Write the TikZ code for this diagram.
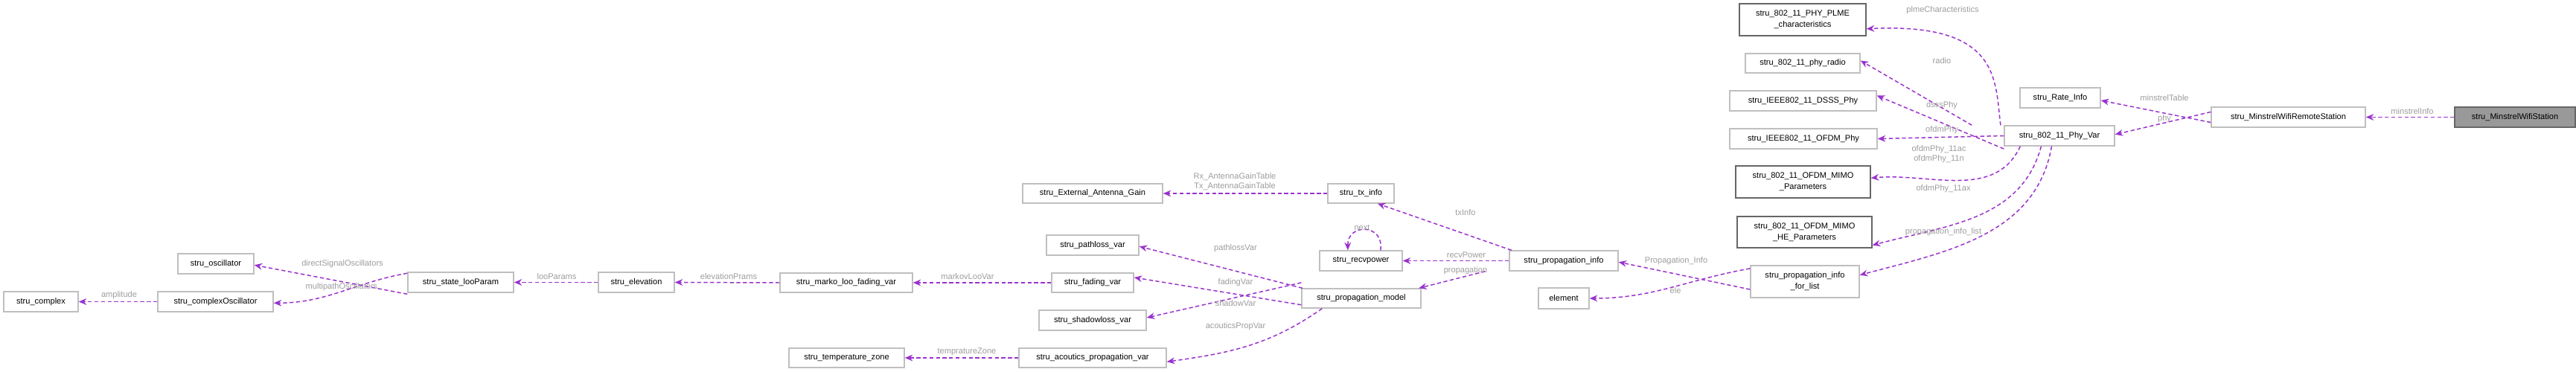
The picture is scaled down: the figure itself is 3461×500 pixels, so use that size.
\documentclass[tikz,border=0pt]{standalone}
\usepackage{fontspec}
\setmainfont{Liberation Sans}
\usetikzlibrary{arrows.meta}
\definecolor{edge}{HTML}{9A32CD}
\definecolor{lbl}{HTML}{9C9C9C}
\definecolor{lite}{HTML}{BFBFBF}
\definecolor{dark}{HTML}{666666}
\newcommand\bx[7][]{\node[box,#1,minimum width={(#5-#3)*0.02cm},minimum height={(#6-#4)*0.02cm}] (#2) at ({(#3+#5)/2},{(#4+#6)/2}) {#7};}
\begin{document}
\begin{tikzpicture}[x=0.02cm,y=-0.02cm,
  box/.style={draw=lite,line width=0.8pt,fill=white,inner sep=1pt,align=center,font=\fontsize{6.3}{8.5}\selectfont},
  dk/.style={draw=dark},
  e/.style={draw=edge,line width=0.85pt,dash pattern=on 3pt off 2pt,-{Stealth[length=6pt,width=5pt]}},
  l/.style={text=lbl,font=\fontsize{6.3}{7.5}\selectfont,inner sep=0pt,align=center}]
\useasboundingbox (0,0) rectangle (3461,500);
\bx[fill=gray!80!white,draw=dark]{mws}{3298}{144}{3460}{171}{stru\_MinstrelWifiStation}
\bx{mrs}{2971}{144}{3178}{171}{stru\_MinstrelWifiRemoteStation}
\bx{rate}{2714}{118}{2822}{145}{stru\_Rate\_Info}
\bx{phy}{2693}{169}{2841}{196}{stru\_802\_11\_Phy\_Var}
\bx[dk]{plme}{2337}{5}{2507}{48}{stru\_802\_11\_PHY\_PLME\\\_characteristics}
\bx{radio}{2345}{72}{2499}{98}{stru\_802\_11\_phy\_radio}
\bx{dsss}{2324}{122}{2521}{149}{stru\_IEEE802\_11\_DSSS\_Phy}
\bx{ofdm}{2324}{173}{2522}{200}{stru\_IEEE802\_11\_OFDM\_Phy}
\bx[dk]{mimo}{2332}{223}{2513}{266}{stru\_802\_11\_OFDM\_MIMO\\\_Parameters}
\bx[dk]{he}{2334}{291}{2515}{333}{stru\_802\_11\_OFDM\_MIMO\\\_HE\_Parameters}
\bx{fl}{2352}{357}{2498}{400}{stru\_propagation\_info\\\_for\_list}
\bx{pinfo}{2028}{337}{2174}{364}{stru\_propagation\_info}
\bx{elem}{2067}{387}{2135}{415}{element}
\bx{tx}{1784}{247}{1873}{273}{stru\_tx\_info}
\bx{ext}{1374}{247}{1562}{273}{stru\_External\_Antenna\_Gain}
\bx{recv}{1773}{337}{1884}{364}{stru\_recvpower}
\bx{pm}{1749}{388}{1909}{414}{stru\_propagation\_model}
\bx{path}{1406}{316}{1530}{343}{stru\_pathloss\_var}
\bx{fad}{1413}{367}{1523}{393}{stru\_fading\_var}
\bx{shad}{1396}{417}{1540}{444}{stru\_shadowloss\_var}
\bx{acou}{1369}{468}{1567}{494}{stru\_acoutics\_propagation\_var}
\bx{temp}{1060}{468}{1215}{494}{stru\_temperature\_zone}
\bx{marko}{1048}{367}{1226}{393}{stru\_marko\_loo\_fading\_var}
\bx{elev}{804}{366}{906}{393}{stru\_elevation}
\bx{state}{548}{366}{690}{393}{stru\_state\_looParam}
\bx{osc}{239}{341}{341}{368}{stru\_oscillator}
\bx{cosc}{212}{392}{367}{419}{stru\_complexOscillator}
\bx{cplx}{5}{392}{105}{419}{stru\_complex}
% edges
\draw[e] (mws.west) -- (mrs.east);
\draw[e] ([yshift=-4]mrs.west) -- ([yshift=-2]rate.east);
\draw[e] ([yshift=4]mrs.west) -- ([yshift=1]phy.east);
\draw[e] ([xshift=-45]phy.north) .. controls (2680,110) and (2690,30) .. ([yshift=-7]plme.east);
\draw[e] ([xshift=-67]phy.north) -- ([yshift=2]radio.east);
\draw[e] ([yshift=-10]phy.west) -- ([yshift=4]dsss.east);
\draw[e] ([yshift=0]phy.west) -- ([yshift=0]ofdm.east);
\draw[e] ([xshift=-30]phy.south) to[out=-115,in=5] ([yshift=3]mimo.east);
\draw[e] ([xshift=-14]phy.south) to[out=-105,in=15] ([yshift=-10]he.east);
\draw[e] ([xshift=-6]phy.south) to[out=-100,in=15] ([yshift=5]fl.east);
\draw[e] ([yshift=-6]fl.west) -- ([yshift=-1]pinfo.east);
\draw[e] ([yshift=10]fl.west) to[out=190,in=0] (elem.east);
\draw[e] ([xshift=-40]pinfo.north) -- ([xshift=-13]tx.south east);
\draw[e] (pinfo.west) -- (recv.east);
\draw[e] ([xshift=-60]pinfo.south) -- ([xshift=-2]pm.north east);
\draw[e] ([xshift=15]recv.north) .. controls (1860,300) and (1810,300) .. ([xshift=-10]recv.north);
\draw[e] (tx.west) -- (ext.east);
\draw[e] ([xshift=-45]pm.north) -- ([yshift=-1]path.east);
\draw[e] ([yshift=-5]pm.west) -- ([yshift=4]fad.east);
\draw[e] ([yshift=12]pm.west) -- ([yshift=2]shad.east);
\draw[e] ([xshift=-30]pm.south) to[out=-145,in=8] ([yshift=-3]acou.east);
\draw[e] (fad.west) -- (marko.east);
\draw[e] (acou.west) -- (temp.east);
\draw[e] (marko.west) -- (elev.east);
\draw[e] (elev.west) -- (state.east);
\draw[e] ([yshift=-9]state.west) -- ([yshift=-1]osc.east);
\draw[e] ([yshift=7]state.west) to[out=190,in=0] ([yshift=-1]cosc.east);
\draw[e] (cosc.west) -- (cplx.east);
% labels
\node[l] (l1) at (3241,150) {minstrelInfo};
\node[l] (l2) at (2908,132) {minstrelTable};
\node[l] (l3) at (2908,160) {phy};
\node[l] (l4) at (2610,14) {plmeCharacteristics};
\node[l] (l5) at (2609,82) {radio};
\node[l] (l6) at (2609,142) {dsssPhy};
\node[l] (l7) at (2609,175) {ofdmPhy};
\node[l] (l8) at (2605,207) {ofdmPhy\_11ac\\ofdmPhy\_11n};
\node[l] (l9) at (2611,254) {ofdmPhy\_11ax};
\node[l] (l10) at (2611,312) {propagation\_info\_list};
\node[l] (l11) at (2252,351) {Propagation\_Info};
\node[l] (l12) at (2251,391) {ele};
\node[l] (l13) at (1969,286) {txInfo};
\node[l] (l14) at (1970,343) {recvPower};
\node[l] (l15) at (1969,364) {propagation};
\node[l] (l16) at (1830,306) {next};
\node[l] (l17) at (1659,244) {Rx\_AntennaGainTable\\Tx\_AntennaGainTable};
\node[l] (l18) at (1660,334) {pathlossVar};
\node[l] (l19) at (1660,380) {fadingVar};
\node[l] (l20) at (1660,408) {shadowVar};
\node[l] (l21) at (1660,439) {acouticsPropVar};
\node[l] (l22) at (1300,372) {markovLooVar};
\node[l] (l23) at (979,372) {elevationPrams};
\node[l] (l24) at (1299,473) {tempratureZone};
\node[l] (l25) at (748,372) {looParams};
\node[l] (l26) at (460,355) {directSignalOscillators};
\node[l] (l27) at (459,386) {multipathOscillators};
\node[l] (l28) at (160,397) {amplitude};
\end{tikzpicture}
\end{document}
